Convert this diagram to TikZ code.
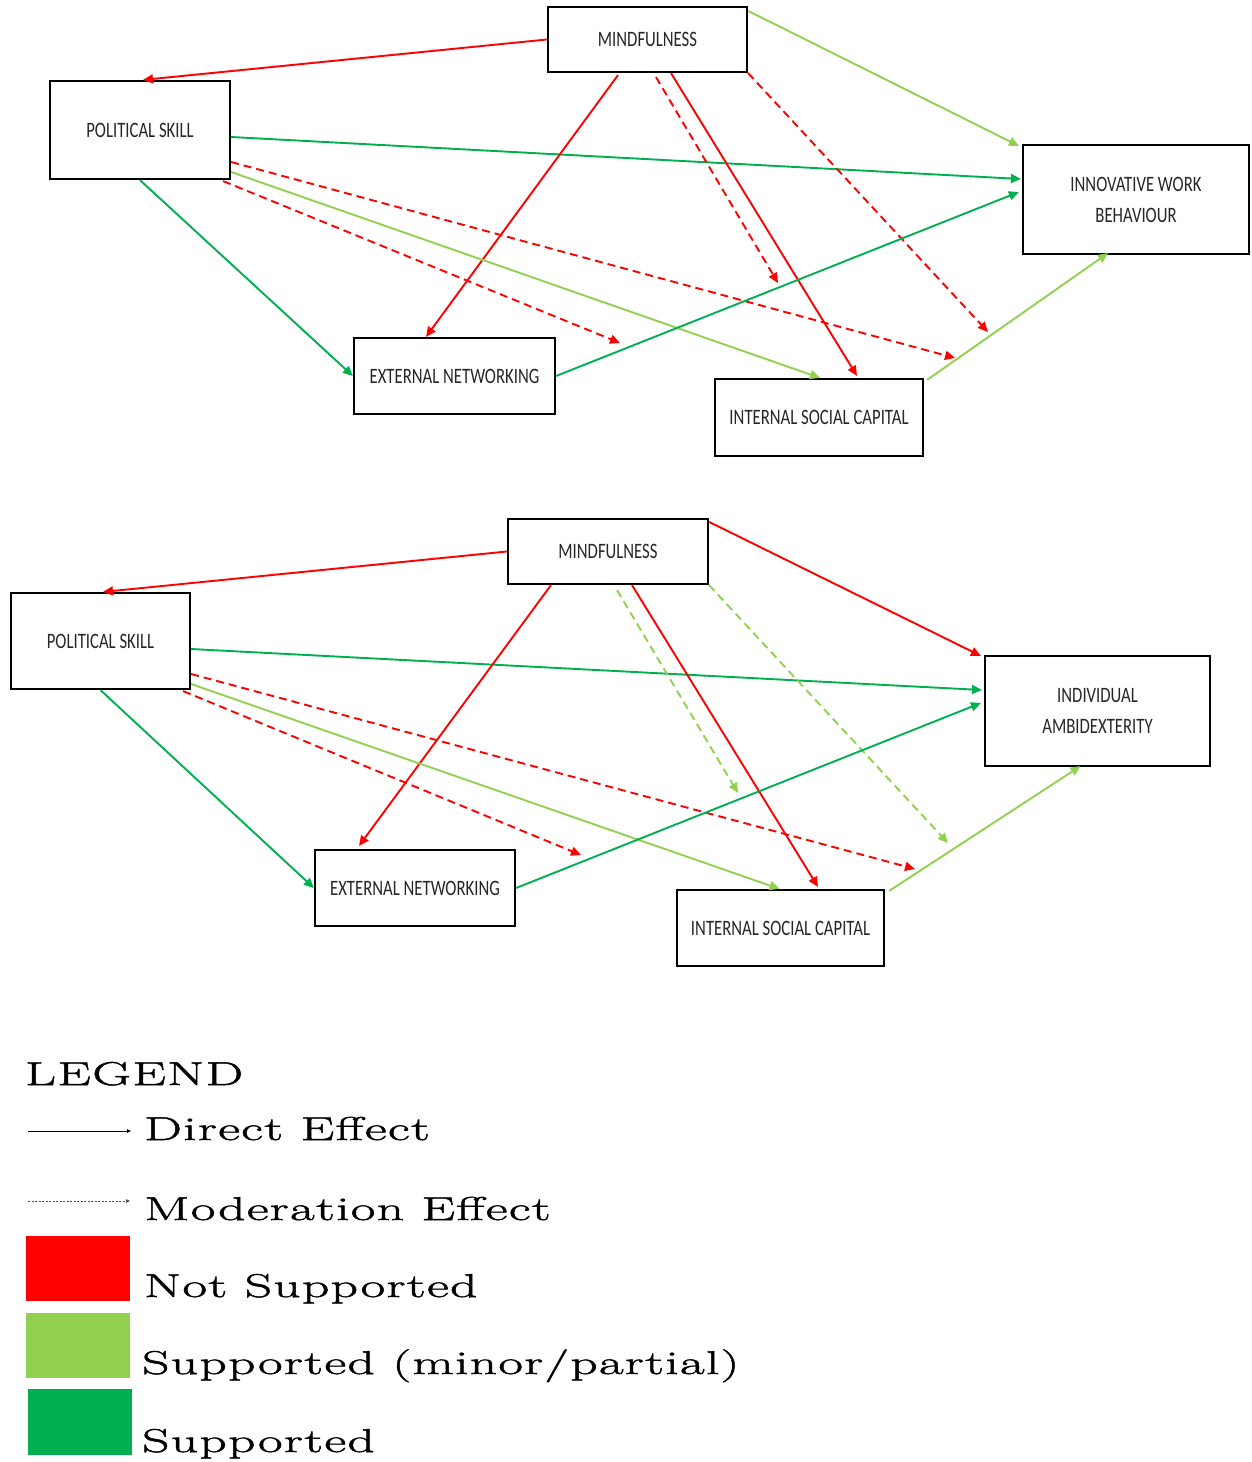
\documentclass[tikz,border=0pt]{standalone}
\usepackage{fontspec}
\usetikzlibrary{arrows.meta,calc}
\newfontfamily\boxfont[FakeStretch=0.76]{Carlito}
\newfontfamily\legfont[FakeStretch=1.62,LetterSpace=4,FakeBold=1.5]{Latin Modern Roman}
\definecolor{cred}{HTML}{FF0000}
\definecolor{clg}{HTML}{92D050}
\definecolor{cdg}{HTML}{00B050}
\begin{document}
\begin{tikzpicture}[x=1pt,y=-1pt,
  box/.style={draw, line width=2.2pt, inner sep=0pt, align=center, text=black!85, font={\boxfont\fontsize{22}{31}\selectfont}},
  arr/.style={line width=1.9pt, -{Triangle[length=10pt,width=9pt]}},
  moder/.style={arr, dash pattern=on 8pt off 5pt},
  notsup/.style={draw=cred, color=cred},
  partsup/.style={draw=clg, color=clg},
  fullsup/.style={draw=cdg, color=cdg},
  leg/.style={anchor=base west, inner sep=0pt, font={\legfont\fontsize{33}{33}\selectfont}}]
\useasboundingbox (0,0) rectangle (1252,1462);

% ---------------- top diagram ----------------
\node[box, minimum width=199pt, minimum height=65pt] (mf) at (647.5,39.5) {MINDFULNESS};
\node[box, minimum width=180pt, minimum height=98pt] (ps) at (140,130) {POLITICAL SKILL};
\node[box, minimum width=226pt, minimum height=109pt] (iwb) at (1136,199.5) {INNOVATIVE WORK\\BEHAVIOUR};
\node[box, minimum width=201pt, minimum height=76pt] (en) at (454.5,376) {EXTERNAL NETWORKING};
\node[box, minimum width=208pt, minimum height=77pt] (isc) at (819,417.5) {INTERNAL SOCIAL CAPITAL};

\coordinate (m1) at (778,283);
\coordinate (m2) at (988,332);
\coordinate (m3) at (955,358);
\coordinate (m4) at (620,343);

\draw[arr,notsup] (mf.west) -- ($(ps.north)+(3,0)$);
\draw[arr,partsup] ($(mf.north east)+(0,5)$) -- ($(iwb.north west)+(-3,2)$);
\draw[arr,fullsup] ($(ps.east)+(0,7)$) -- ($(iwb.west)+(-1,-20.5)$);
\draw[arr,fullsup] (ps.south) -- (en.west);
\draw[arr,notsup] ($(mf.south)+(-29.5,2)$) -- ($(en.north)+(-28.5,0)$);
\draw[moder,notsup] ($(mf.south)+(8.5,4)$) -- (m1);
\draw[arr,notsup] ($(mf.south)+(23.5,0)$) -- ($(isc.north)+(38,-2)$);
\draw[moder,notsup] (mf.south east) -- (m2);
\draw[moder,notsup] ($(ps.east)+(0,32)$) -- (m3);
\draw[moder,notsup] ($(ps.south east)+(-8,1)$) -- (m4);
\draw[arr,partsup] ($(ps.east)+(0,42)$) -- ($(isc.north)+(1,0)$);
\draw[arr,fullsup] (en.east) -- ($(iwb.west)+(-3,-7.5)$);
\draw[arr,partsup] ($(isc.north east)+(3,2)$) -- ($(iwb.south)+(-28,-2)$);

% ---------------- bottom diagram ----------------
\node[box, minimum width=200pt, minimum height=65pt] (mfb) at (608,551.5) {MINDFULNESS};
\node[box, minimum width=179pt, minimum height=96pt] (psb) at (100.5,641) {POLITICAL SKILL};
\node[box, minimum width=225pt, minimum height=110pt] (ia) at (1097.5,711) {INDIVIDUAL\\AMBIDEXTERITY};
\node[box, minimum width=200pt, minimum height=76pt] (enb) at (415,888) {EXTERNAL NETWORKING};
\node[box, minimum width=207pt, minimum height=76pt] (iscb) at (780.5,928) {INTERNAL SOCIAL CAPITAL};

\coordinate (n1) at (738,793);
\coordinate (n2) at (948,843);
\coordinate (n3) at (915,869);
\coordinate (n4) at (581,855);

\draw[arr,notsup] (mfb.west) -- ($(psb.north)+(2.5,0)$);
\draw[arr,notsup] ($(mfb.north east)+(0,4)$) -- ($(ia.north west)+(-3,1)$);
\draw[arr,fullsup] ($(psb.east)+(0,8)$) -- ($(ia.west)+(-2,-21)$);
\draw[arr,fullsup] (psb.south) -- (enb.west);
\draw[arr,notsup] ($(mfb.south)+(-57,0)$) -- ($(enb.north)+(-56,-3)$);
\draw[moder,partsup] ($(mfb.south)+(9,5)$) -- (n1);
\draw[arr,notsup] ($(mfb.south)+(24,0)$) -- ($(iscb.north)+(37.5,-2)$);
\draw[moder,partsup] (mfb.south east) -- (n2);
\draw[moder,notsup] ($(psb.east)+(0,33)$) -- (n3);
\draw[moder,notsup] ($(psb.south east)+(-8,1)$) -- (n4);
\draw[arr,partsup] ($(psb.east)+(0,43)$) -- ($(iscb.north)+(-1,0)$);
\draw[arr,fullsup] (enb.east) -- ($(ia.west)+(-3,-8)$);
\draw[arr,partsup] ($(iscb.north east)+(4,2)$) -- ($(ia.south)+(-17,-1)$);

% ---------------- legend ----------------
\node[leg] (lg) at (25,1085) {LEGEND};
\coordinate (d1) at (28,1131);
\coordinate (d2) at (131,1131);
\draw[line width=1pt, -{Triangle[length=4pt,width=3.5pt]}] (d1) -- (d2);
\node[leg] (ld) at (144,1140) {Direct Effect};
\coordinate (e1) at (28,1201);
\coordinate (e2) at (130,1201);
\draw[line width=0.8pt, black!70, dash pattern=on 2pt off 1.5pt, -{Triangle[length=4pt,width=3.5pt]}] (e1) -- (e2);
\node[leg] (lm) at (144,1220) {Moderation Effect};
\fill[cred] (26,1236) rectangle (130,1301);
\node[leg] (ln) at (144,1297) {Not Supported};
\fill[clg] (26,1313) rectangle (130,1378);
\node[leg] (lp) at (142,1374) {Supported (minor/partial)};
\fill[cdg] (28,1389) rectangle (132,1455);
\node[leg] (ls) at (142,1452) {Supported};
\end{tikzpicture}
\end{document}
